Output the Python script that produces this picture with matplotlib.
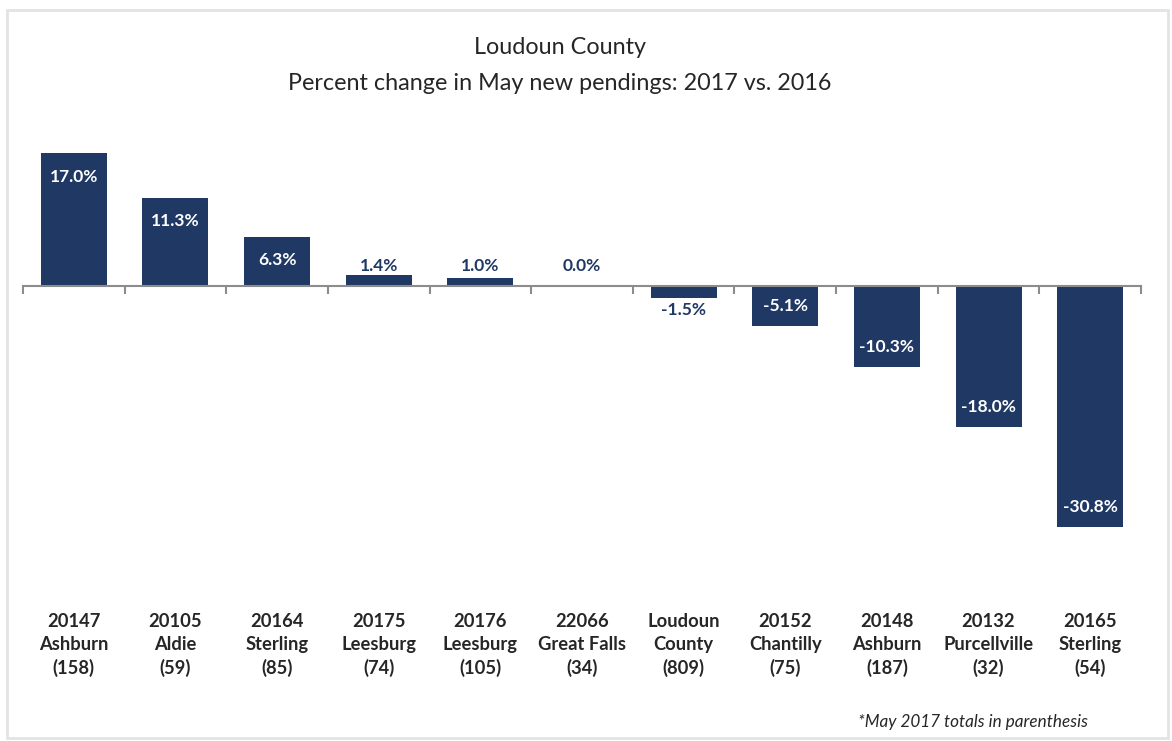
import matplotlib.pyplot as plt
import matplotlib.transforms as mtransforms
from matplotlib.patches import Rectangle

plt.rcParams['font.family'] = ['Lato', 'DejaVu Sans']

zips = ['20147', '20105', '20164', '20175', '20176', '22066',
        'Loudoun', '20152', '20148', '20132', '20165']
towns = ['Ashburn', 'Aldie', 'Sterling', 'Leesburg', 'Leesburg', 'Great Falls',
         'County', 'Chantilly', 'Ashburn', 'Purcellville', 'Sterling']
totals = [158, 59, 85, 74, 105, 34, 809, 75, 187, 32, 54]
pct_change = [17.0, 11.3, 6.3, 1.4, 1.0, 0.0, -1.5, -5.1, -10.3, -18.0, -30.8]

navy = '#1f3864'
text_color = '#262626'

fig = plt.figure(figsize=(11.72, 7.41), dpi=100)
# 7.82 px per percentage point, zero line 286 px from the top
ax = fig.add_axes([23 / 1172, 1 - (286 + 35 * 7.82) / 741, 1118 / 1172, 55 * 7.82 / 741])

x = list(range(len(pct_change)))
ax.bar(x, pct_change, width=0.65, color=navy, zorder=2)
ax.set_xlim(-0.5, len(x) - 0.5)
ax.set_ylim(-35, 20)

# zero line with small ticks between the categories
for side in ['top', 'right', 'left']:
    ax.spines[side].set_visible(False)
ax.spines['bottom'].set_position(('data', 0))
ax.spines['bottom'].set_color('#8c8c8c')
ax.spines['bottom'].set_linewidth(1.5)
ax.set_xticks([i - 0.5 for i in range(len(x) + 1)])
ax.set_xticklabels([])
ax.tick_params(axis='x', length=6, width=1.5, color='#8c8c8c', direction='out')
ax.set_yticks([])

# value labels
lab_size = 12.5
for xi, v in zip(x, pct_change):
    label = f'{v:.1f}%'
    if v >= 2:
        ax.annotate(label, (xi, v), xytext=(0, -17), textcoords='offset points',
                    ha='center', va='center', color='white',
                    fontsize=lab_size, fontweight='bold')
    elif v >= 0:
        ax.text(xi, 2.6, label, ha='center', va='center', color=navy,
                fontsize=lab_size, fontweight='bold')
    elif v > -3:
        ax.annotate(label, (xi, v), xytext=(0, -9), textcoords='offset points',
                    ha='center', va='center', color=navy,
                    fontsize=lab_size, fontweight='bold')
    else:
        ax.annotate(label, (xi, v), xytext=(0, 14), textcoords='offset points',
                    ha='center', va='center', color='white',
                    fontsize=lab_size, fontweight='bold')

# category labels below the chart
trans = mtransforms.blended_transform_factory(ax.transData, fig.transFigure)
for xi, z, t, n in zip(x, zips, towns, totals):
    ax.text(xi, 1 - 645 / 741, f'{z}\n{t}\n({n})', transform=trans,
            ha='center', va='center', color=text_color, fontsize=13.2,
            fontweight='bold', linespacing=1.4)

fig.text(560 / 1172, 1 - 48 / 741, 'Loudoun County', ha='center', va='center',
         color=text_color, fontsize=16.8)
fig.text(560 / 1172, 1 - 83 / 741, 'Percent change in May new pendings: 2017 vs. 2016',
         ha='center', va='center', color=text_color, fontsize=16.8)
fig.text(1088 / 1172, 1 - 722 / 741, '*May 2017 totals in parenthesis',
         ha='right', va='center', color=text_color, fontsize=12.3, style='italic')

# light border round the chart area
fig.patches.append(Rectangle((7 / 1172, 3 / 741), 1161 / 1172, 728 / 741,
                             transform=fig.transFigure, fill=False,
                             edgecolor='#e3e3e3', linewidth=2))

fig.savefig('out.png', dpi=100)
